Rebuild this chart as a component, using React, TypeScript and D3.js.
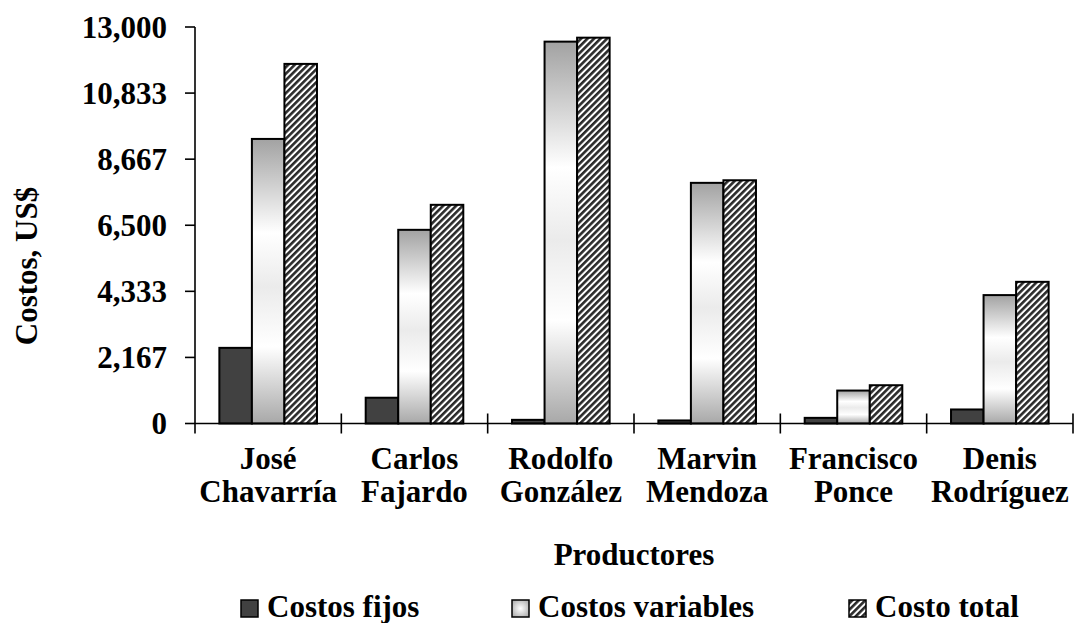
import React from "react";
import * as d3 from "d3";

const categories = [
  ["José", "Chavarría"],
  ["Carlos", "Fajardo"],
  ["Rodolfo", "González"],
  ["Marvin", "Mendoza"],
  ["Francisco", "Ponce"],
  ["Denis", "Rodríguez"],
];
const costosFijos = [2480, 845, 120, 100, 185, 460];
const costosVariables = [9330, 6350, 12520, 7890, 1080, 4210];
const costoTotal = [11790, 7170, 12650, 7975, 1255, 4645];
const seriesNames = ["Costos fijos", "Costos variables", "Costo total"];
const tickValues = [0, 13000 / 6, 26000 / 6, 6500, 52000 / 6, 65000 / 6, 13000];
const tickLabels = ["0", "2,167", "4,333", "6,500", "8,667", "10,833", "13,000"];

const W = 1074;
const H = 623;
const FONT = "'Liberation Serif', 'Times New Roman', serif";

export default function App() {
  const left = 195, right = 1073, top = 27, bottom = 423.5;
  const keys = categories.map((c) => c.join(" "));
  const x0 = d3.scaleBand<string>().domain(keys).range([left, right]);
  const bw = x0.bandwidth();
  const x1 = d3.scaleBand<string>().domain(seriesNames).range([bw * 0.1665, bw * 0.8335]);
  const y = d3.scaleLinear().domain([0, 13000]).range([bottom, top]);
  const series = [costosFijos, costosVariables, costoTotal];
  const fills = ["#414141", "url(#gradVar)", "url(#hatch)"];
  const legendX = [241, 512, 849];

  return (
    <svg width={W} height={H} style={{ position: "absolute", left: 0, top: 0 }} fontFamily={FONT} fontWeight="bold">
      <defs>
        <linearGradient id="gradVar" x1="0" x2="0" y1="0" y2="1">
          <stop offset="0%" stopColor="#a2a2a2" />
          <stop offset="33%" stopColor="#ffffff" />
          <stop offset="52%" stopColor="#ebebeb" />
          <stop offset="73%" stopColor="#ffffff" />
          <stop offset="100%" stopColor="#a8a8a8" />
        </linearGradient>
        <radialGradient id="gradLeg" cx="50%" cy="50%" r="60%">
          <stop offset="0%" stopColor="#ffffff" />
          <stop offset="100%" stopColor="#b0b0b0" />
        </radialGradient>
        <pattern id="hatch" width="4.6" height="4.6" patternUnits="userSpaceOnUse" patternTransform="rotate(45)">
          <rect width="4.6" height="4.6" fill="#ffffff" />
          <rect width="2.6" height="4.6" fill="#2a2a2a" />
        </pattern>
      </defs>

      {/* bars */}
      {categories.map((c, i) => (
        <g key={i} transform={`translate(${x0(keys[i])},0)`}>
          {series.map((s, j) => (
            <rect
              key={j}
              x={x1(seriesNames[j])}
              y={y(s[i])}
              width={x1.bandwidth()}
              height={bottom - y(s[i])}
              fill={fills[j]}
              stroke="#000"
              strokeWidth={2}
            />
          ))}
        </g>
      ))}

      {/* y axis */}
      <line x1={left} x2={left} y1={top} y2={bottom + 10} stroke="#000" strokeWidth={1.6} />
      {tickValues.map((t, i) => (
        <g key={i}>
          <line x1={left - 10} x2={left} y1={y(t)} y2={y(t)} stroke="#000" strokeWidth={1.6} />
          <text x={167} y={y(t)} dy="0.34em" textAnchor="end" fontSize={31}>
            {tickLabels[i]}
          </text>
        </g>
      ))}

      {/* x axis */}
      <line x1={left} x2={right} y1={bottom} y2={bottom} stroke="#000" strokeWidth={1.6} />
      {keys.map((k) => (
        <line key={k} x1={x0(k)! + bw} x2={x0(k)! + bw} y1={bottom - 10} y2={bottom + 10} stroke="#000" strokeWidth={1.6} />
      ))}
      {categories.map((c, i) => (
        <text key={i} x={x0(keys[i])! + bw / 2} y={469} textAnchor="middle" fontSize={31}>
          <tspan x={x0(keys[i])! + bw / 2}>{c[0]}</tspan>
          <tspan x={x0(keys[i])! + bw / 2} y={502}>{c[1]}</tspan>
        </text>
      ))}

      {/* titles */}
      <text x={634} y={565} textAnchor="middle" fontSize={31}>Productores</text>
      <text transform={`translate(37,${266}) rotate(-90)`} textAnchor="middle" fontSize={31}>Costos, US$</text>

      {/* legend */}
      {legendX.map((lx, j) => (
        <g key={j}>
          <rect x={lx} y={600} width={17} height={17} fill={j === 1 ? "url(#gradLeg)" : fills[j]} stroke="#000" strokeWidth={1.5} />
          <text x={lx + 26} y={617} fontSize={31}>{seriesNames[j]}</text>
        </g>
      ))}
    </svg>
  );
}
